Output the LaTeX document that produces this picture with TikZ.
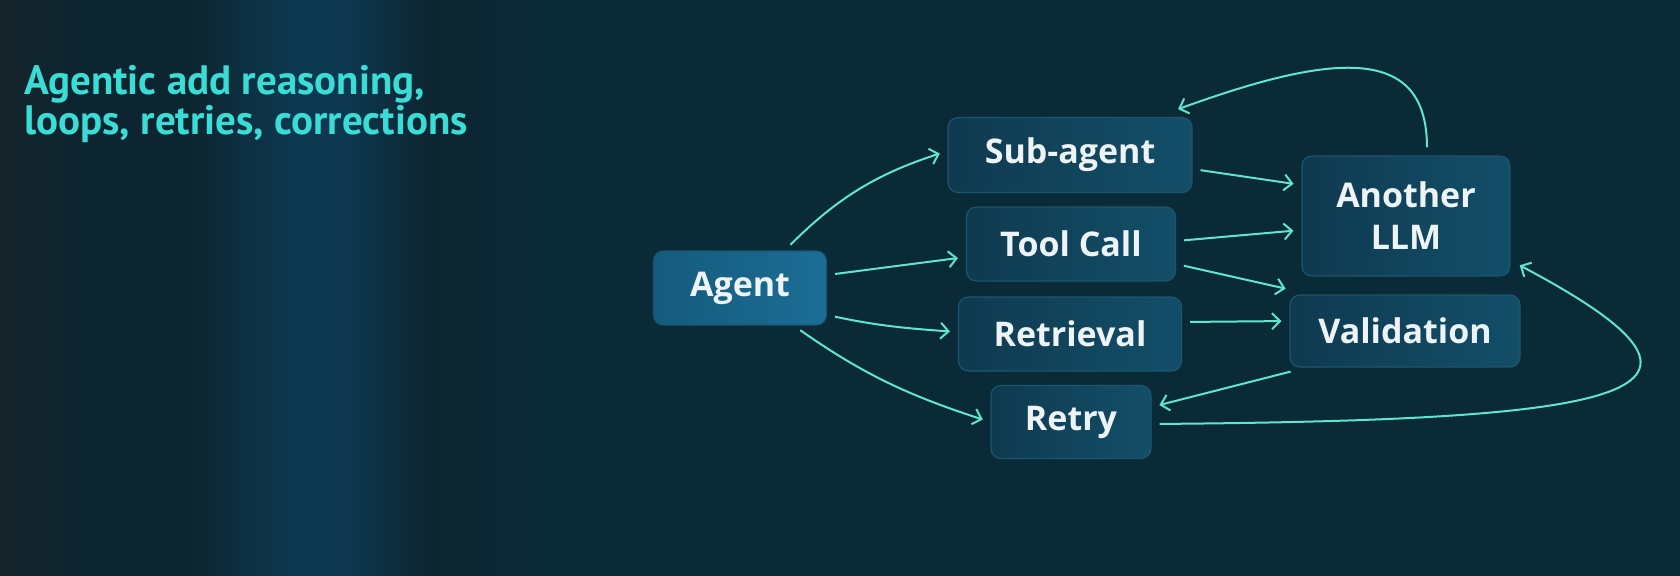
\documentclass[tikz,border=0pt]{standalone}
\usepackage{fontspec}
\usetikzlibrary{arrows.meta}
\setmainfont{Open Sans}
\newfontfamily\titlefont{PT Sans}

\definecolor{bgmain}{HTML}{0B2A37}
\definecolor{bgedge}{HTML}{16242B}
\definecolor{bgdark}{HTML}{0D2530}
\definecolor{bgband}{HTML}{0D3850}
\definecolor{boxdark}{HTML}{0F3A50}
\definecolor{boxlight}{HTML}{134E69}
\definecolor{boxline}{HTML}{1B5670}
\definecolor{agentdark}{HTML}{155A7E}
\definecolor{agentlight}{HTML}{1C6D96}
\definecolor{linkc}{HTML}{5EE6CF}
\definecolor{titlec}{HTML}{3ADCD6}
\definecolor{labelc}{HTML}{EEF4F6}

\pgfdeclarehorizontalshading{leftglow}{100bp}{color(0bp)=(bgedge); color(25bp)=(bgedge); color(31bp)=(bgdark); color(40bp)=(bgdark); color(48bp)=(bgband); color(52bp)=(bgband); color(59bp)=(bgdark); color(66bp)=(bgmain); color(100bp)=(bgmain)}

\begin{document}
\begin{tikzpicture}[x=0.5pt, y=0.5pt,
        box/.style={rectangle, rounded corners=5pt, draw=boxline, line width=0.6pt,
            left color=boxdark, right color=boxlight, text=labelc, inner sep=0pt,
            font=\fontsize{17}{21}\selectfont\bfseries, align=center},
        mainbox/.style={box, left color=agentdark, right color=agentlight},
        link/.style={draw=linkc, line width=1pt, -{Straight Barb[length=4pt,width=8pt]},
            shorten >=4pt, shorten <=4pt}
    ]
        \useasboundingbox (0,0) rectangle (1680,-575);
        \fill[bgmain] (-5,5) rectangle (1685,-580);
        \shade[shading=leftglow] (-5,5) rectangle (640,-580);

        \node[anchor=base west, inner sep=0pt, align=left, text=titlec,
            font=\titlefont\bfseries\fontsize{20.5}{20}\selectfont] (title) at (24,-134)
            {Agentic add reasoning,\\loops, retries, corrections};

        \node[mainbox, minimum width=86.5pt, minimum height=37pt] (agent) at (740,-288) {Agent};
        \node[box, minimum width=122pt, minimum height=37.5pt] (sub) at (1070,-155) {Sub-agent};
        \node[box, minimum width=104.5pt, minimum height=37pt] (tool) at (1071,-244) {Tool Call};
        \node[box, minimum width=111.5pt, minimum height=37pt] (retr) at (1070,-334) {Retrieval};
        \node[box, minimum width=115pt, minimum height=36pt] (valid) at (1405,-331) {Validation};
        \node[box, minimum width=80pt, minimum height=36.5pt] (retry) at (1071,-422) {Retry};
        \node[box, minimum width=104pt, minimum height=60pt] (llm) at (1406,-216) {Another\\LLM};

        \draw[link] (agent.40) to[out=45, in=198] ([yshift=2pt]sub.west);
        \draw[link] ([yshift=6.5pt]agent.east) -- ([yshift=-6.5pt]tool.west);
        \draw[link] ([yshift=-13.5pt]agent.east) to[out=-12, in=176] ([yshift=1pt]retr.west);
        \draw[link] (agent.-35) to[out=-35, in=162] (retry.west);

        \draw[link] ([yshift=-7pt]sub.east) -- ([yshift=15.5pt]llm.west);
        \draw[link] ([yshift=1.5pt]tool.east) -- ([yshift=-7pt]llm.west);
        \draw[link] ([yshift=-10pt]tool.east) -- ([xshift=2pt, yshift=2pt]valid.north west);
        \draw[link] ([yshift=6pt]retr.east) -- ([yshift=5pt]valid.west);
        \draw[link] ([xshift=4.5pt, yshift=-1pt]valid.south west) -- ([yshift=7.5pt]retry.east);

        \draw[link] ([yshift=-1pt]retry.east) .. controls (1630,-420) and (1765,-395) .. ([xshift=1pt, yshift=7.5pt]llm.south east);
        \draw[link] ([xshift=10.5pt]llm.north) .. controls (1427,-45) and (1335,-52) .. ([xshift=-11pt, yshift=2.5pt]sub.north east);
    \end{tikzpicture}
\end{document}
